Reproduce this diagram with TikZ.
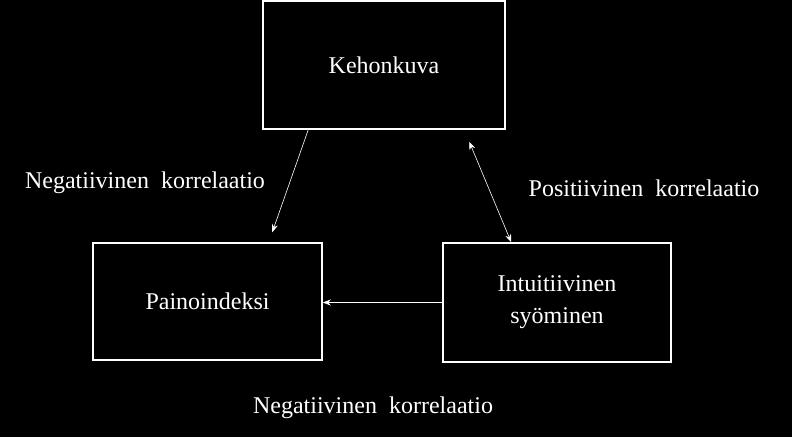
\documentclass[tikz,border=0pt]{standalone}
\usepackage{fontspec}
\setmainfont{Liberation Serif}
\usetikzlibrary{calc,arrows.meta}
\begin{document}
\begin{tikzpicture}[x=1pt,y=-1pt,
  box/.style={draw=white,line width=1.5pt,text=white,align=center,font=\fontsize{24}{32}\selectfont},
  lbl/.style={text=white,font=\fontsize{24}{28}\selectfont},
  conn/.style={draw=white,line width=0.6pt,-{Stealth[length=8pt,width=6pt]}}]
\fill[black] (0,0) rectangle (792,437);
\useasboundingbox (0,0) rectangle (792,437);
\node[box,minimum width=242pt,minimum height=128pt] (k) at (384,65) {Kehonkuva};
\node[box,minimum width=229pt,minimum height=117pt] (p) at (207.5,301.5) {Painoindeksi};
\node[box,minimum width=228pt,minimum height=119pt] (i) at (557,302.5) {Intuitiivinen\\syöminen};
\coordinate (a1) at ($(k.south west)+(46,0)$);
\coordinate (a2) at ($(p.north west)+(180,-10)$);
\draw[conn] (a1) -- (a2);
\coordinate (b1) at ($(k.south west)+(207,12)$);
\coordinate (b2) at ($(i.north west)+(69,0)$);
\draw[conn,{Stealth[length=8pt,width=6pt]}-{Stealth[length=8pt,width=6pt]}] (b1) -- (b2);
\coordinate (c1) at (i.west);
\draw[conn] (c1) -- ($(p.east)+(0,1)$);
\node[lbl] (l1) at (145,183) {Negatiivinen\ \ korrelaatio};
\node[lbl] (l2) at (644,188) {Positiivinen\ \ korrelaatio};
\node[lbl] (l3) at (373,408) {Negatiivinen\ \ korrelaatio};
\end{tikzpicture}
\end{document}
